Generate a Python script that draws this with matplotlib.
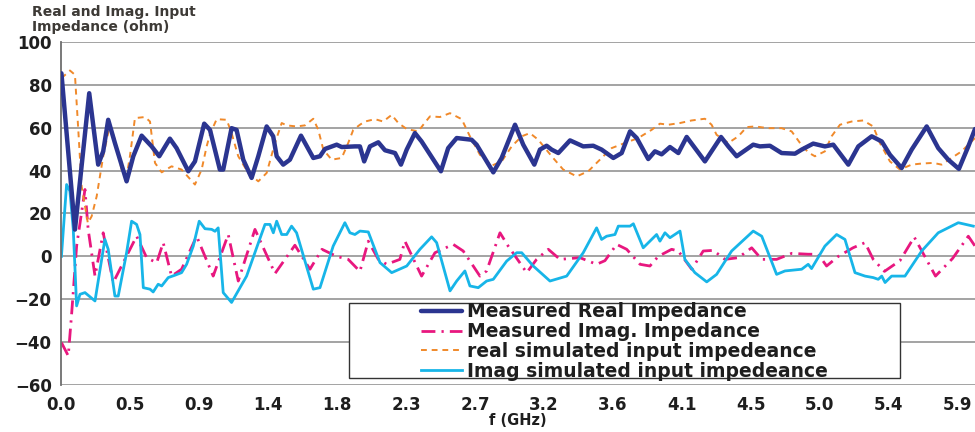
import matplotlib
matplotlib.use("Agg")
import matplotlib.pyplot as plt
import matplotlib.patches as mpatches
import numpy as np

# frequency axis (GHz) and input impedance (ohm) for each trace
meas_real_f = [0.000, 0.089, 0.183, 0.242, 0.275, 0.308, 0.352, 0.429, 0.473, 0.528,
               0.594, 0.644, 0.714, 0.758, 0.835, 0.879, 0.940, 0.978, 1.043, 1.065,
               1.120, 1.153, 1.197, 1.252, 1.296, 1.351, 1.394, 1.417, 1.460, 1.504,
               1.577, 1.658, 1.702, 1.735, 1.812, 1.845, 1.932, 1.965, 1.993, 2.031,
               2.086, 2.130, 2.196, 2.235, 2.273, 2.327, 2.371, 2.498, 2.546, 2.602,
               2.700, 2.733, 2.843, 2.898, 2.986, 3.040, 3.113, 3.150, 3.194, 3.227,
               3.271, 3.348, 3.435, 3.501, 3.556, 3.633, 3.688, 3.743, 3.787, 3.863,
               3.907, 3.951, 4.006, 4.061, 4.116, 4.236, 4.342, 4.390, 4.445, 4.554,
               4.598, 4.664, 4.741, 4.829, 4.873, 4.949, 5.026, 5.081, 5.180, 5.246,
               5.334, 5.400, 5.454, 5.531, 5.597, 5.696, 5.772, 5.838, 5.908, 5.970,
               6.014]
meas_real = [85.4, 12.5, 76.1, 42.8, 49.0, 63.7, 52.9, 35.0, 46.7, 56.3,
             51.3, 46.7, 54.9, 50.5, 39.7, 44.3, 61.9, 59.0, 40.5, 40.5,
             59.8, 59.0, 45.1, 36.6, 46.7, 60.6, 56.0, 46.7, 42.8, 45.1,
             56.3, 45.9, 46.7, 50.1, 52.1, 51.0, 51.3, 51.3, 44.3, 51.3,
             53.2, 49.5, 48.2, 42.8, 49.8, 57.5, 53.6, 39.7, 50.5, 55.2,
             54.4, 52.1, 39.2, 45.9, 61.4, 52.1, 42.8, 49.8, 51.6, 49.8,
             48.2, 54.1, 51.3, 51.6, 49.8, 45.9, 48.2, 58.3, 55.2, 45.4,
             49.0, 47.6, 51.0, 48.2, 55.7, 44.3, 55.7, 51.3, 46.7, 52.1,
             51.3, 51.6, 48.2, 47.9, 49.8, 52.6, 51.3, 52.1, 42.8, 51.3,
             56.0, 53.6, 47.4, 41.2, 49.8, 60.6, 50.5, 45.1, 40.8, 51.3,
             59.4]

meas_imag_f = [0.000, 0.045, 0.067, 0.100, 0.155, 0.176, 0.221, 0.275, 0.341, 0.407,
               0.495, 0.561, 0.627, 0.670, 0.725, 0.791, 0.890, 0.999, 1.098, 1.164,
               1.274, 1.406, 1.537, 1.636, 1.715, 1.812, 1.888, 1.965, 2.020, 2.086,
               2.141, 2.228, 2.261, 2.371, 2.459, 2.579, 2.645, 2.755, 2.799, 2.887,
               2.941, 3.063, 3.128, 3.205, 3.282, 3.413, 3.523, 3.578, 3.655, 3.721,
               3.809, 3.874, 3.929, 4.017, 4.061, 4.149, 4.225, 4.291, 4.368, 4.456,
               4.544, 4.610, 4.708, 4.807, 4.916, 4.982, 5.037, 5.114, 5.211, 5.290,
               5.344, 5.418, 5.520, 5.614, 5.754, 5.866, 5.970, 6.014]
meas_imag = [-40.2, -46.4, -27.0, 4.8, 31.2, 12.6, -9.2, 11.0, -12.2, -2.9,
             9.4, -0.6, -3.0, 6.4, -9.2, -6.0, 9.4, -9.2, 10.2, -11.5,
             12.6, -8.0, 5.2, -6.0, 3.3, 0.0, -1.4, -7.0, 7.1, -1.4,
             -3.7, -1.4, 7.1, -9.2, 1.7, 5.6, 2.5, -9.2, -6.8, 11.0,
             4.8, -7.6, -1.4, 3.3, -1.4, -0.6, -3.7, -2.0, 5.6, 3.3,
             -3.7, -4.5, 0.0, 3.3, 2.5, -6.0, 2.5, 2.8, -1.4, -0.6,
             4.0, -1.4, -1.4, 1.4, 1.0, 1.0, -4.5, 0.0, 4.0, 6.4,
             -1.4, -7.0, -2.0, 9.0, -9.2, -1.0, 9.4, 4.8]

sim_real_f = [0.000, 0.056, 0.089, 0.111, 0.133, 0.174, 0.199, 0.232, 0.275, 0.319,
              0.352, 0.396, 0.429, 0.451, 0.484, 0.550, 0.583, 0.616, 0.660, 0.725,
              0.791, 0.879, 0.923, 0.956, 0.978, 1.022, 1.088, 1.120, 1.164, 1.230,
              1.296, 1.351, 1.406, 1.450, 1.483, 1.548, 1.603, 1.658, 1.691, 1.724,
              1.779, 1.845, 1.888, 1.921, 1.965, 1.998, 2.064, 2.118, 2.174, 2.218,
              2.273, 2.349, 2.382, 2.426, 2.492, 2.558, 2.635, 2.689, 2.755, 2.832,
              2.898, 2.964, 3.030, 3.084, 3.139, 3.227, 3.303, 3.392, 3.468, 3.556,
              3.622, 3.710, 3.797, 3.885, 3.940, 3.995, 4.072, 4.149, 4.236, 4.280,
              4.313, 4.390, 4.456, 4.511, 4.566, 4.653, 4.741, 4.807, 4.862, 4.916,
              4.960, 5.026, 5.070, 5.125, 5.202, 5.278, 5.344, 5.388, 5.454, 5.520,
              5.597, 5.663, 5.739, 5.794, 5.860, 5.926, 6.014]
sim_real = [83.1, 86.7, 84.7, 59.0, 32.7, 15.5, 18.7, 28.0, 46.7, 61.4,
            54.4, 40.5, 37.3, 46.7, 64.5, 65.0, 62.9, 43.6, 39.2, 42.0,
            40.5, 33.5, 40.5, 51.3, 57.0, 64.0, 63.7, 57.5, 46.7, 38.9,
            35.0, 38.9, 52.9, 62.2, 61.1, 60.6, 61.1, 64.2, 59.0, 49.8,
            45.1, 45.9, 52.9, 59.0, 61.4, 62.9, 64.0, 62.9, 66.0, 62.2,
            59.4, 58.3, 61.4, 65.3, 65.0, 66.8, 64.0, 56.0, 47.4, 42.3,
            44.3, 51.3, 56.0, 57.5, 54.4, 46.7, 40.5, 37.3, 39.7, 45.9,
            50.5, 52.9, 55.2, 59.0, 61.9, 61.4, 62.2, 63.4, 64.2, 61.4,
            56.7, 52.9, 56.0, 60.3, 60.6, 59.8, 59.8, 58.3, 52.9, 48.5,
            46.7, 49.0, 56.0, 61.4, 62.9, 63.4, 60.6, 52.9, 44.3, 40.5,
            42.8, 43.3, 43.6, 42.8, 45.9, 49.0, 55.2]

sim_imag_f = [0.000, 0.034, 0.056, 0.078, 0.100, 0.122, 0.155, 0.221, 0.286, 0.308,
              0.352, 0.374, 0.429, 0.462, 0.495, 0.517, 0.539, 0.583, 0.604, 0.637,
              0.660, 0.703, 0.747, 0.791, 0.824, 0.868, 0.907, 0.945, 0.989, 1.011,
              1.032, 1.065, 1.120, 1.219, 1.290, 1.340, 1.373, 1.395, 1.417, 1.450,
              1.483, 1.515, 1.548, 1.658, 1.702, 1.789, 1.866, 1.899, 1.932, 1.965,
              2.020, 2.097, 2.174, 2.273, 2.360, 2.437, 2.470, 2.558, 2.602, 2.656,
              2.689, 2.744, 2.799, 2.843, 2.931, 2.997, 3.030, 3.106, 3.216, 3.326,
              3.435, 3.523, 3.556, 3.589, 3.644, 3.666, 3.743, 3.765, 3.830, 3.874,
              3.918, 3.940, 3.973, 4.006, 4.072, 4.104, 4.170, 4.248, 4.313, 4.412,
              4.554, 4.610, 4.708, 4.763, 4.873, 4.916, 4.938, 5.026, 5.103, 5.158,
              5.224, 5.290, 5.344, 5.377, 5.400, 5.422, 5.465, 5.553, 5.663, 5.772,
              5.904, 6.003]
sim_imag = [0.0, 33.5, 30.4, 12.6, -23.1, -17.7, -16.9, -20.8, 7.9, 3.3,
            -18.5, -18.5, 1.7, 16.4, 14.9, 10.2, -14.6, -15.3, -16.6, -13.0,
            -13.8, -9.9, -8.8, -7.6, -3.7, 4.8, 16.4, 12.9, 12.6, 11.7,
            13.3, -16.9, -21.5, -9.2, 5.0, 14.9, 14.9, 11.0, 16.4, 10.2,
            10.2, 14.1, 11.0, -15.3, -14.6, 4.8, 15.7, 11.0, 10.2, 11.8,
            11.4, -2.9, -7.6, -4.5, 3.3, 9.1, 6.4, -16.1, -11.5, -6.8,
            -13.8, -14.6, -11.5, -10.7, -2.2, 1.7, 1.7, -4.5, -11.5, -9.2,
            1.7, 13.3, 7.9, 9.4, 10.2, 14.1, 14.1, 15.2, 4.0, 7.1,
            10.2, 7.1, 11.0, 8.7, 11.8, -1.4, -7.6, -11.9, -8.4, 2.5,
            11.8, 9.4, -8.4, -6.8, -6.0, -3.7, -5.7, 4.8, 10.2, 7.9,
            -7.6, -9.2, -9.9, -10.7, -9.2, -12.2, -9.2, -9.2, 2.5, 11.0,
            15.7, 14.1]

y_ticks = [100, 80, 60, 40, 20, 0, -20, -40, -60]
n_xlabels = 14
f_max = 5.9

fig = plt.figure(figsize=(9.75, 4.32), dpi=100)
ax = fig.add_axes([0.063, 0.1088, 0.937, 0.794])

ax.plot(meas_real_f, meas_real, color='#2b3590', lw=3.2, solid_joinstyle='round',
        solid_capstyle='round', label='Measured Real Impedance', zorder=3)
ax.plot(meas_imag_f, meas_imag, color='#e8177f', lw=2.0, dashes=(5, 2.2, 0.8, 2.2),
        label='Measured Imag. Impedance', zorder=2)
ax.plot(sim_real_f, sim_real, color='#f0892a', lw=1.4, dashes=(3, 2.5),
        label='real simulated input impedeance', zorder=2)
ax.plot(sim_imag_f, sim_imag, color='#17b5e8', lw=2.0, solid_joinstyle='round',
        label='Imag simulated input impedeance', zorder=2)

ax.set_xlim(0, 6.014)
ax.set_ylim(-60, 100)
ax.set_yticks(y_ticks)
xt = np.arange(n_xlabels) * f_max / (n_xlabels - 1)
ax.set_xticks(xt)
ax.set_xticklabels(['%.1f' % v for v in xt])
ax.grid(axis='y', color='#8a8a8a', lw=1.1)
ax.set_axisbelow(True)
for s in ['top', 'right', 'bottom']:
    ax.spines[s].set_visible(False)
ax.spines['left'].set_color('#6e6e6e')
ax.spines['left'].set_linewidth(1.3)
ax.tick_params(length=0, labelsize=12, colors='#1e1e1e')
ax.tick_params(axis='y', pad=7)
ax.tick_params(axis='x', pad=8)
for lab in ax.get_xticklabels() + ax.get_yticklabels():
    lab.set_fontweight('bold')

ax.set_xlabel('f (GHz)', fontsize=10.5, fontweight='bold', color='#1e1e1e', labelpad=-1)
fig.text(0.033, 0.988, 'Real and Imag. Input\nImpedance (ohm)', fontsize=10,
         fontweight='bold', color='#3d3a36', va='top', ha='left', linespacing=1.1)

# legend box drawn separately so the frame can be wider than its entries
box = mpatches.Rectangle((0.358, 0.125), 0.565, 0.1736, transform=fig.transFigure,
                         facecolor='white', edgecolor='#333333', lw=1.0, zorder=4,
                         clip_on=False)
ax.add_patch(box)
leg = ax.legend(loc='center', bbox_to_anchor=(0.6405, 0.2095), bbox_transform=fig.transFigure,
                frameon=False, fontsize=13.5, handlelength=2.2, handletextpad=0.3,
                labelspacing=0.04, borderpad=0)
leg.set_zorder(5)
for t in leg.get_texts():
    t.set_fontweight('bold')
    t.set_color('#1e1e1e')

fig.savefig('out.png', dpi=100)
